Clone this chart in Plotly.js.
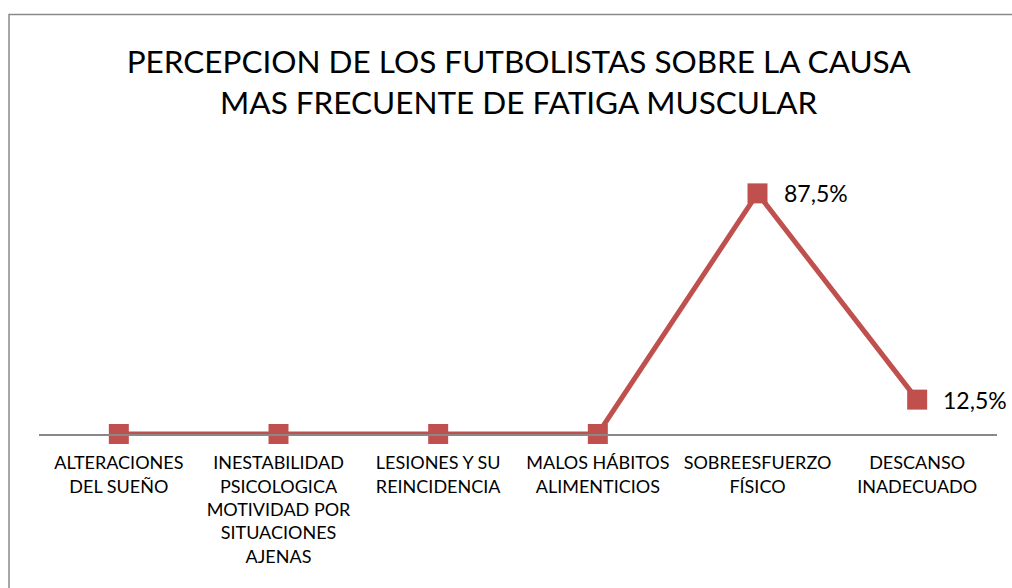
<!DOCTYPE html>
<html>
<head>
<meta charset="utf-8">
<script src="https://cdn.plot.ly/plotly-3.0.1.min.js"></script>
<style>
html,body{margin:0;padding:0;background:#fff;}
#chart{width:1012px;height:588px;}
</style>
</head>
<body>
<div id="chart"></div>
<script>
var categories = [
  "ALTERACIONES<br>DEL SUEÑO",
  "INESTABILIDAD<br>PSICOLOGICA<br>MOTIVIDAD POR<br>SITUACIONES<br>AJENAS",
  "LESIONES Y SU<br>REINCIDENCIA",
  "MALOS HÁBITOS<br>ALIMENTICIOS",
  "SOBREESFUERZO<br>FÍSICO",
  "DESCANSO<br>INADECUADO"
];
var values = [0, 0, 0, 0, 87.5, 12.5];
var labels = ["", "", "", "", "87,5%", "12,5%"];

var FONT = "Lato, 'Open Sans', sans-serif";
var trace = {
  x: categories,
  y: values,
  type: "scatter",
  mode: "lines+markers",
  line: {color: "#C0504D", width: 5},
  marker: {symbol: "square", size: 20, color: "#C0504D"},
  cliponaxis: false,
  hoverinfo: "skip"
};

var annotations = [];
for (var i = 0; i < categories.length; i++) {
  if (labels[i]) {
    annotations.push({
      x: categories[i], y: values[i], xref: "x", yref: "y",
      text: labels[i], showarrow: false,
      xanchor: "left", yanchor: "middle", xshift: 24,
      font: {family: FONT, size: 23, color: "#000"}
    });
  }
}

var layout = {
  width: 1012, height: 588,
  margin: {l: 39, r: 15, t: 159, b: 154},
  paper_bgcolor: "#fff", plot_bgcolor: "#fff",
  showlegend: false,
  title: {
    text: "PERCEPCION DE LOS FUTBOLISTAS SOBRE LA CAUSA<br>MAS FRECUENTE DE FATIGA MUSCULAR",
    font: {family: FONT, size: 31.5, color: "#000"},
    x: 0.5125, xanchor: "center",
    y: 0.876, yref: "container", yanchor: "top"
  },
  xaxis: {
    type: "category",
    range: [-0.5, 5.5],
    showgrid: false, zeroline: false,
    showline: true, linecolor: "#888", linewidth: 1.5,
    ticks: "",
    ticklabelstandoff: 12,
    tickfont: {family: FONT, size: 18, color: "#000"},
    fixedrange: true
  },
  yaxis: {
    range: [0, 100],
    visible: false,
    showgrid: false, zeroline: false,
    fixedrange: true
  },
  annotations: annotations,
  shapes: [{
    type: "rect", xref: "paper", yref: "paper",
    x0: -0.0313, x1: 1.05, y0: -0.7, y1: 1.5255,
    line: {color: "#8a8a8a", width: 1.5}, fillcolor: "rgba(0,0,0,0)", layer: "below"
  }]
};

Plotly.newPlot("chart", [trace], layout, {displayModeBar: false, staticPlot: true});
</script>
</body>
</html>
